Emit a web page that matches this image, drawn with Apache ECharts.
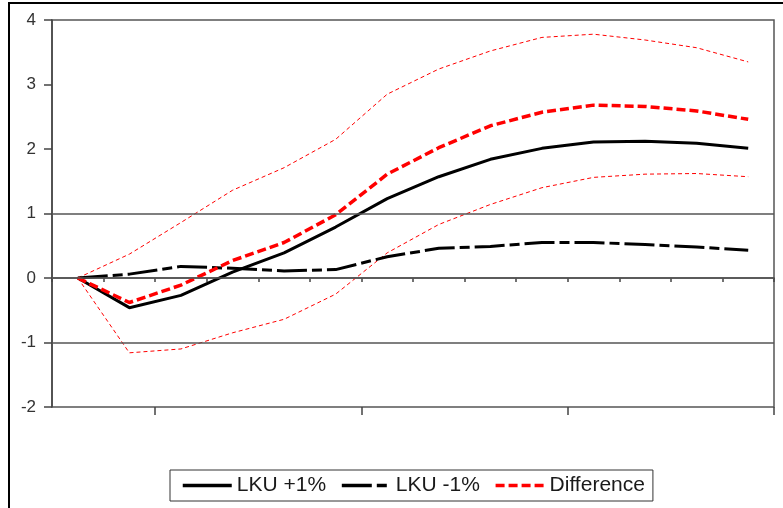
<!DOCTYPE html>
<html>
<head>
<meta charset="utf-8">
<script src="https://cdn.jsdelivr.net/npm/echarts@6/dist/echarts.min.js"></script>
<style>
html,body{margin:0;padding:0;background:#fff;}
#chart{width:783px;height:508px;}
</style>
</head>
<body>
<div id="chart"></div>
<script>
const periods = ['1','2','3','4','5','6','7','8','9','10','11','12','13','14'];
const lkuPlus  = [0, -0.46, -0.27, 0.09, 0.39, 0.79, 1.23, 1.57, 1.84, 2.01, 2.11, 2.12, 2.09, 2.01];
const lkuMinus = [0, 0.06, 0.18, 0.15, 0.11, 0.13, 0.33, 0.46, 0.49, 0.55, 0.55, 0.52, 0.48, 0.43];
const difference = [0, -0.38, -0.11, 0.27, 0.55, 0.98, 1.61, 2.02, 2.36, 2.57, 2.68, 2.66, 2.59, 2.46];
const upperBand = [0, 0.37, 0.86, 1.36, 1.71, 2.15, 2.85, 3.24, 3.52, 3.73, 3.78, 3.69, 3.57, 3.35];
const lowerBand = [0, -1.16, -1.10, -0.85, -0.64, -0.25, 0.39, 0.83, 1.14, 1.40, 1.56, 1.61, 1.62, 1.57];
const yTicks = [-2, -1, 0, 1, 2, 3, 4];
const gridLineValues = [1, 0, -1];

const chart = echarts.init(document.getElementById('chart'), null, {renderer: 'canvas'});
const FONT = 'Liberation Sans, Arial, sans-serif';
const HIDDEN_SYMBOL = {color: 'rgba(0,0,0,0)', borderWidth: 0, opacity: 0};

chart.setOption({
  animation: false,
  backgroundColor: '#ffffff',
  grid: {left: 52, right: 9, top: 20, bottom: 101, show: true, borderColor: '#555', borderWidth: 1.5, backgroundColor: 'transparent'},
  legend: {
    left: 170, top: 470,
    data: ['LKU +1%', 'LKU -1%', 'Difference'],
    itemWidth: 49, itemHeight: 14, itemGap: 14,
    padding: [5, 8, 5, 11],
    borderColor: '#333', borderWidth: 1,
    itemStyle: {opacity: 0},
    lineStyle: {width: 3.5, opacity: 1},
    textStyle: {fontFamily: FONT, fontSize: 21, color: '#1a1a1a'}
  },
  xAxis: [{
    type: 'category', data: periods, boundaryGap: true,
    axisLine: {lineStyle: {color: '#444', width: 1.5}},
    axisTick: {show: true, length: 4, interval: 0, lineStyle: {color: '#444', width: 1.5}},
    axisLabel: {show: false},
    splitLine: {show: false}
  }, {
    type: 'category', data: periods, boundaryGap: true, position: 'bottom', offset: 0,
    axisLine: {show: false},
    axisTick: {show: true, length: 8, interval: function (i) { return i % 4 === 2; }, lineStyle: {color: '#444', width: 1.5}},
    axisLabel: {show: false},
    splitLine: {show: false}
  }],
  yAxis: {
    type: 'value', min: yTicks[0], max: yTicks[yTicks.length - 1], interval: 1,
    axisLine: {show: true, lineStyle: {color: '#444', width: 1.5}},
    axisTick: {show: true, length: 8, lineStyle: {color: '#444', width: 1.5}},
    axisLabel: {margin: 16, fontFamily: FONT, fontSize: 17, color: '#333'},
    splitLine: {show: false}
  },
  graphic: [
    {type: 'line', shape: {x1: 9, y1: 2, x2: 9, y2: 508}, style: {stroke: '#000', lineWidth: 2}},
    {type: 'line', shape: {x1: 8, y1: 3, x2: 783, y2: 3}, style: {stroke: '#000', lineWidth: 2}}
  ],
  series: [
    {
      name: 'upper', type: 'line', data: upperBand, symbol: 'none', z: 2,
      lineStyle: {color: '#ff0000', width: 1, type: [4, 3]},
      markLine: {
        silent: true, symbol: 'none', label: {show: false},
        lineStyle: {color: '#555', width: 1.5, type: 'solid'},
        data: gridLineValues.map(v => ({yAxis: v}))
      }
    },
    {
      name: 'lower', type: 'line', data: lowerBand, symbol: 'none', z: 2,
      lineStyle: {color: '#ff0000', width: 1, type: [4, 3]}
    },
    {
      name: 'LKU +1%', type: 'line', data: lkuPlus, symbol: 'none', z: 3,
      itemStyle: HIDDEN_SYMBOL,
      lineStyle: {color: '#000', width: 3, type: 'solid'}
    },
    {
      name: 'LKU -1%', type: 'line', data: lkuMinus, symbol: 'none', z: 3,
      itemStyle: HIDDEN_SYMBOL,
      lineStyle: {color: '#000', width: 3, type: [30, 5, 10, 5]}
    },
    {
      name: 'Difference', type: 'line', data: difference, symbol: 'none', z: 4,
      itemStyle: HIDDEN_SYMBOL,
      lineStyle: {color: '#ff0000', width: 3.5, type: [9, 4]}
    }
  ]
});
</script>
</body>
</html>
